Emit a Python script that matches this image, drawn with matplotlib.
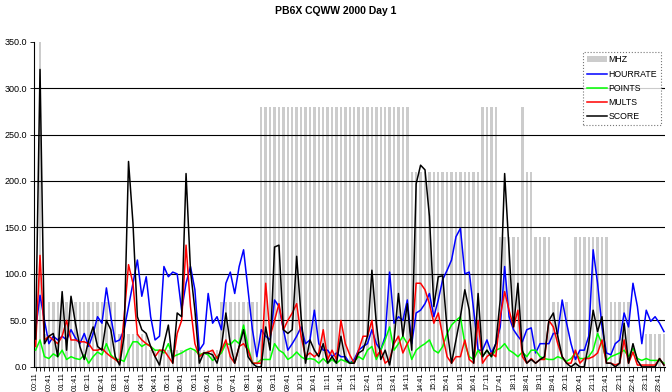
import numpy as np
import matplotlib
matplotlib.use("Agg")
import matplotlib.pyplot as plt
from matplotlib.patches import Patch
from matplotlib.lines import Line2D

plt.rcParams['font.family'] = ['Liberation Sans', 'DejaVu Sans']

# ===== data (10-minute samples, 00:11 .. 23:51) =====
start_min = 11
n_pts = 143
times = [f"{(start_min + 10 * i) // 60:02d}:{(start_min + 10 * i) % 60:02d}" for i in range(n_pts)]

mhz = ([35, 350, 35] + [70] * 16 + [35] * 7 + [18] * 16 + [70] * 9 + [280] * 34
       + [210] * 16 + [280] * 4 + [140] * 5 + [280] + [210] * 2 + [140] * 4
       + [70] * 4 + [0] + [140] * 8 + [70] * 5 + [0] * 3 + [35] * 5)

hourrate = [40, 77, 50, 25, 33, 29, 33, 29, 40, 31, 25, 36, 22, 36, 54, 47, 85, 54, 27, 29,
            40, 65, 90, 115, 76, 97, 54, 29, 33, 108, 97, 102, 100, 61, 90, 108, 83, 18, 25, 79,
            47, 54, 40, 90, 102, 79, 108, 126, 83, 40, 11, 40, 33, 29, 72, 65, 40, 18, 25, 33,
            43, 25, 29, 61, 25, 18, 18, 11, 15, 11, 11, 4, 8, 18, 22, 25, 40, 25, 18, 33,
            102, 47, 54, 50, 72, 25, 58, 61, 68, 79, 54, 72, 94, 104, 115, 140, 149, 100, 102, 61,
            18, 18, 29, 15, 25, 43, 108, 54, 40, 33, 27, 40, 42, 15, 25, 25, 25, 36, 36, 72,
            47, 25, 8, 18, 18, 33, 126, 90, 43, 15, 13, 25, 29, 58, 43, 90, 65, 25, 61, 49,
            54, 47, 38]

points = [18, 29, 11, 9, 14, 11, 18, 8, 11, 9, 8, 13, 4, 11, 16, 13, 25, 13, 8, 8,
          6, 18, 27, 27, 22, 25, 22, 18, 18, 15, 25, 11, 13, 15, 18, 20, 18, 13, 15, 13,
          7, 11, 15, 25, 24, 29, 25, 45, 22, 4, 4, 8, 8, 8, 25, 18, 15, 8, 11, 16,
          11, 8, 9, 8, 4, 9, 4, 8, 4, 8, 6, 4, 6, 11, 8, 18, 22, 8, 18, 29,
          43, 18, 25, 33, 25, 8, 18, 22, 25, 29, 18, 15, 22, 36, 45, 50, 54, 25, 11, 8,
          18, 11, 18, 11, 18, 20, 25, 18, 15, 11, 16, 11, 18, 18, 11, 9, 8, 8, 11, 9,
          6, 9, 15, 9, 9, 11, 18, 36, 25, 7, 11, 13, 15, 18, 11, 20, 9, 7, 9, 7,
          7, 7, 4]

mults = [22, 120, 29, 33, 29, 25, 33, 50, 29, 29, 27, 27, 25, 18, 18, 20, 15, 11, 8, 4,
         54, 110, 90, 35, 29, 25, 22, 11, 18, 18, 11, 4, 36, 50, 131, 65, 25, 11, 15, 16,
         18, 9, 18, 29, 11, 4, 22, 25, 18, 4, 4, 4, 90, 33, 50, 68, 40, 50, 58, 68,
         33, 11, 15, 11, 15, 40, 8, 18, 8, 50, 25, 13, 4, 18, 33, 33, 50, 11, 18, 4,
         8, 25, 33, 15, 25, 33, 90, 90, 83, 68, 47, 58, 33, 11, 4, 11, 11, 29, 8, 4,
         50, 4, 11, 15, 11, 54, 81, 61, 43, 61, 11, 4, 9, 4, 8, 8, 50, 43, 25, 11,
         4, 4, 18, 4, 9, 9, 11, 15, 29, 4, 4, 2, 4, 29, 4, 16, 2, 2, 2, 2,
         2, 9, 2]

score = [30, 320, 25, 33, 36, 11, 81, 18, 76, 47, 22, 8, 29, 43, 22, 18, 50, 40, 11, 2,
         33, 221, 155, 54, 40, 36, 22, 11, 2, 25, 45, 4, 58, 54, 208, 104, 61, 4, 15, 15,
         13, 4, 22, 58, 25, 4, 22, 40, 11, 4, 0, 0, 43, 18, 129, 131, 40, 36, 40, 119,
         54, 4, 29, 18, 11, 25, 4, 11, 4, 33, 8, 4, 4, 15, 18, 33, 104, 47, 8, 18,
         2, 29, 79, 33, 68, 18, 197, 217, 212, 162, 65, 97, 98, 40, 4, 29, 54, 83, 61, 4,
         79, 11, 18, 11, 25, 72, 208, 126, 43, 90, 18, 4, 8, 4, 8, 11, 50, 58, 33, 11,
         4, 0, 4, 0, 0, 25, 61, 38, 54, 4, 4, 0, 4, 47, 4, 25, 7, 0, 0, 0,
         0, 9, 2]

yticks = [0, 50, 100, 150, 200, 250, 300, 350]

# ===== plot =====
fig = plt.figure(figsize=(6.72, 3.92), dpi=100)
ax = fig.add_axes([0.051, 0.064, 0.939, 0.830])

x = np.arange(n_pts)
ax.bar(x, mhz, width=0.55, color='#cccccc', linewidth=0, zorder=1)
for v in yticks[1:-1]:
    ax.axhline(v, color='black', linewidth=0.8, zorder=1.5)

lw = 1.1
ax.plot(x, hourrate, color='#0000ff', lw=lw, zorder=2)
ax.plot(x, points, color='#00ff00', lw=lw, zorder=3)
ax.plot(x, mults, color='#ff0000', lw=lw, zorder=4)
ax.plot(x, score, color='black', lw=lw, zorder=5)

ax.set_xlim(-0.3, n_pts - 0.7)
ax.set_ylim(0, 350)
ax.set_yticks(yticks)
ax.set_yticklabels([f"{v:.1f}" for v in yticks], fontsize=6.5)
ax.set_xticks(x)
ax.set_xticklabels([t if i % 3 == 0 else "" for i, t in enumerate(times)],
                   rotation=90, fontsize=5.2)
ax.tick_params(axis='x', length=3, width=0.6, pad=1)
ax.tick_params(axis='y', length=3, width=0.6, pad=2)
for side in ['top', 'right']:
    ax.spines[side].set_visible(False)
ax.spines['left'].set_linewidth(0.8)
ax.spines['bottom'].set_linewidth(0.8)

handles = [Patch(facecolor='#cccccc', edgecolor='none', label='MHZ'),
           Line2D([], [], color='#0000ff', lw=lw, label='HOURRATE'),
           Line2D([], [], color='#00ff00', lw=lw, label='POINTS'),
           Line2D([], [], color='#ff0000', lw=lw, label='MULTS'),
           Line2D([], [], color='black', lw=lw, label='SCORE')]
leg = ax.legend(handles=handles, loc='upper left', bbox_to_anchor=(0.87, 0.968),
                fontsize=6.3, frameon=True, fancybox=False, borderpad=0.4,
                labelspacing=0.6, handlelength=2.3, handletextpad=0.2,
                borderaxespad=0)
leg.get_frame().set_edgecolor('#555555')
leg.get_frame().set_linewidth(0.8)
leg.get_frame().set_linestyle(':')
leg.set_zorder(10)

fig.suptitle("PB6X CQWW 2000 Day 1", fontsize=7.5, fontweight='bold', y=0.985)

fig.savefig("out.png", dpi=100)
